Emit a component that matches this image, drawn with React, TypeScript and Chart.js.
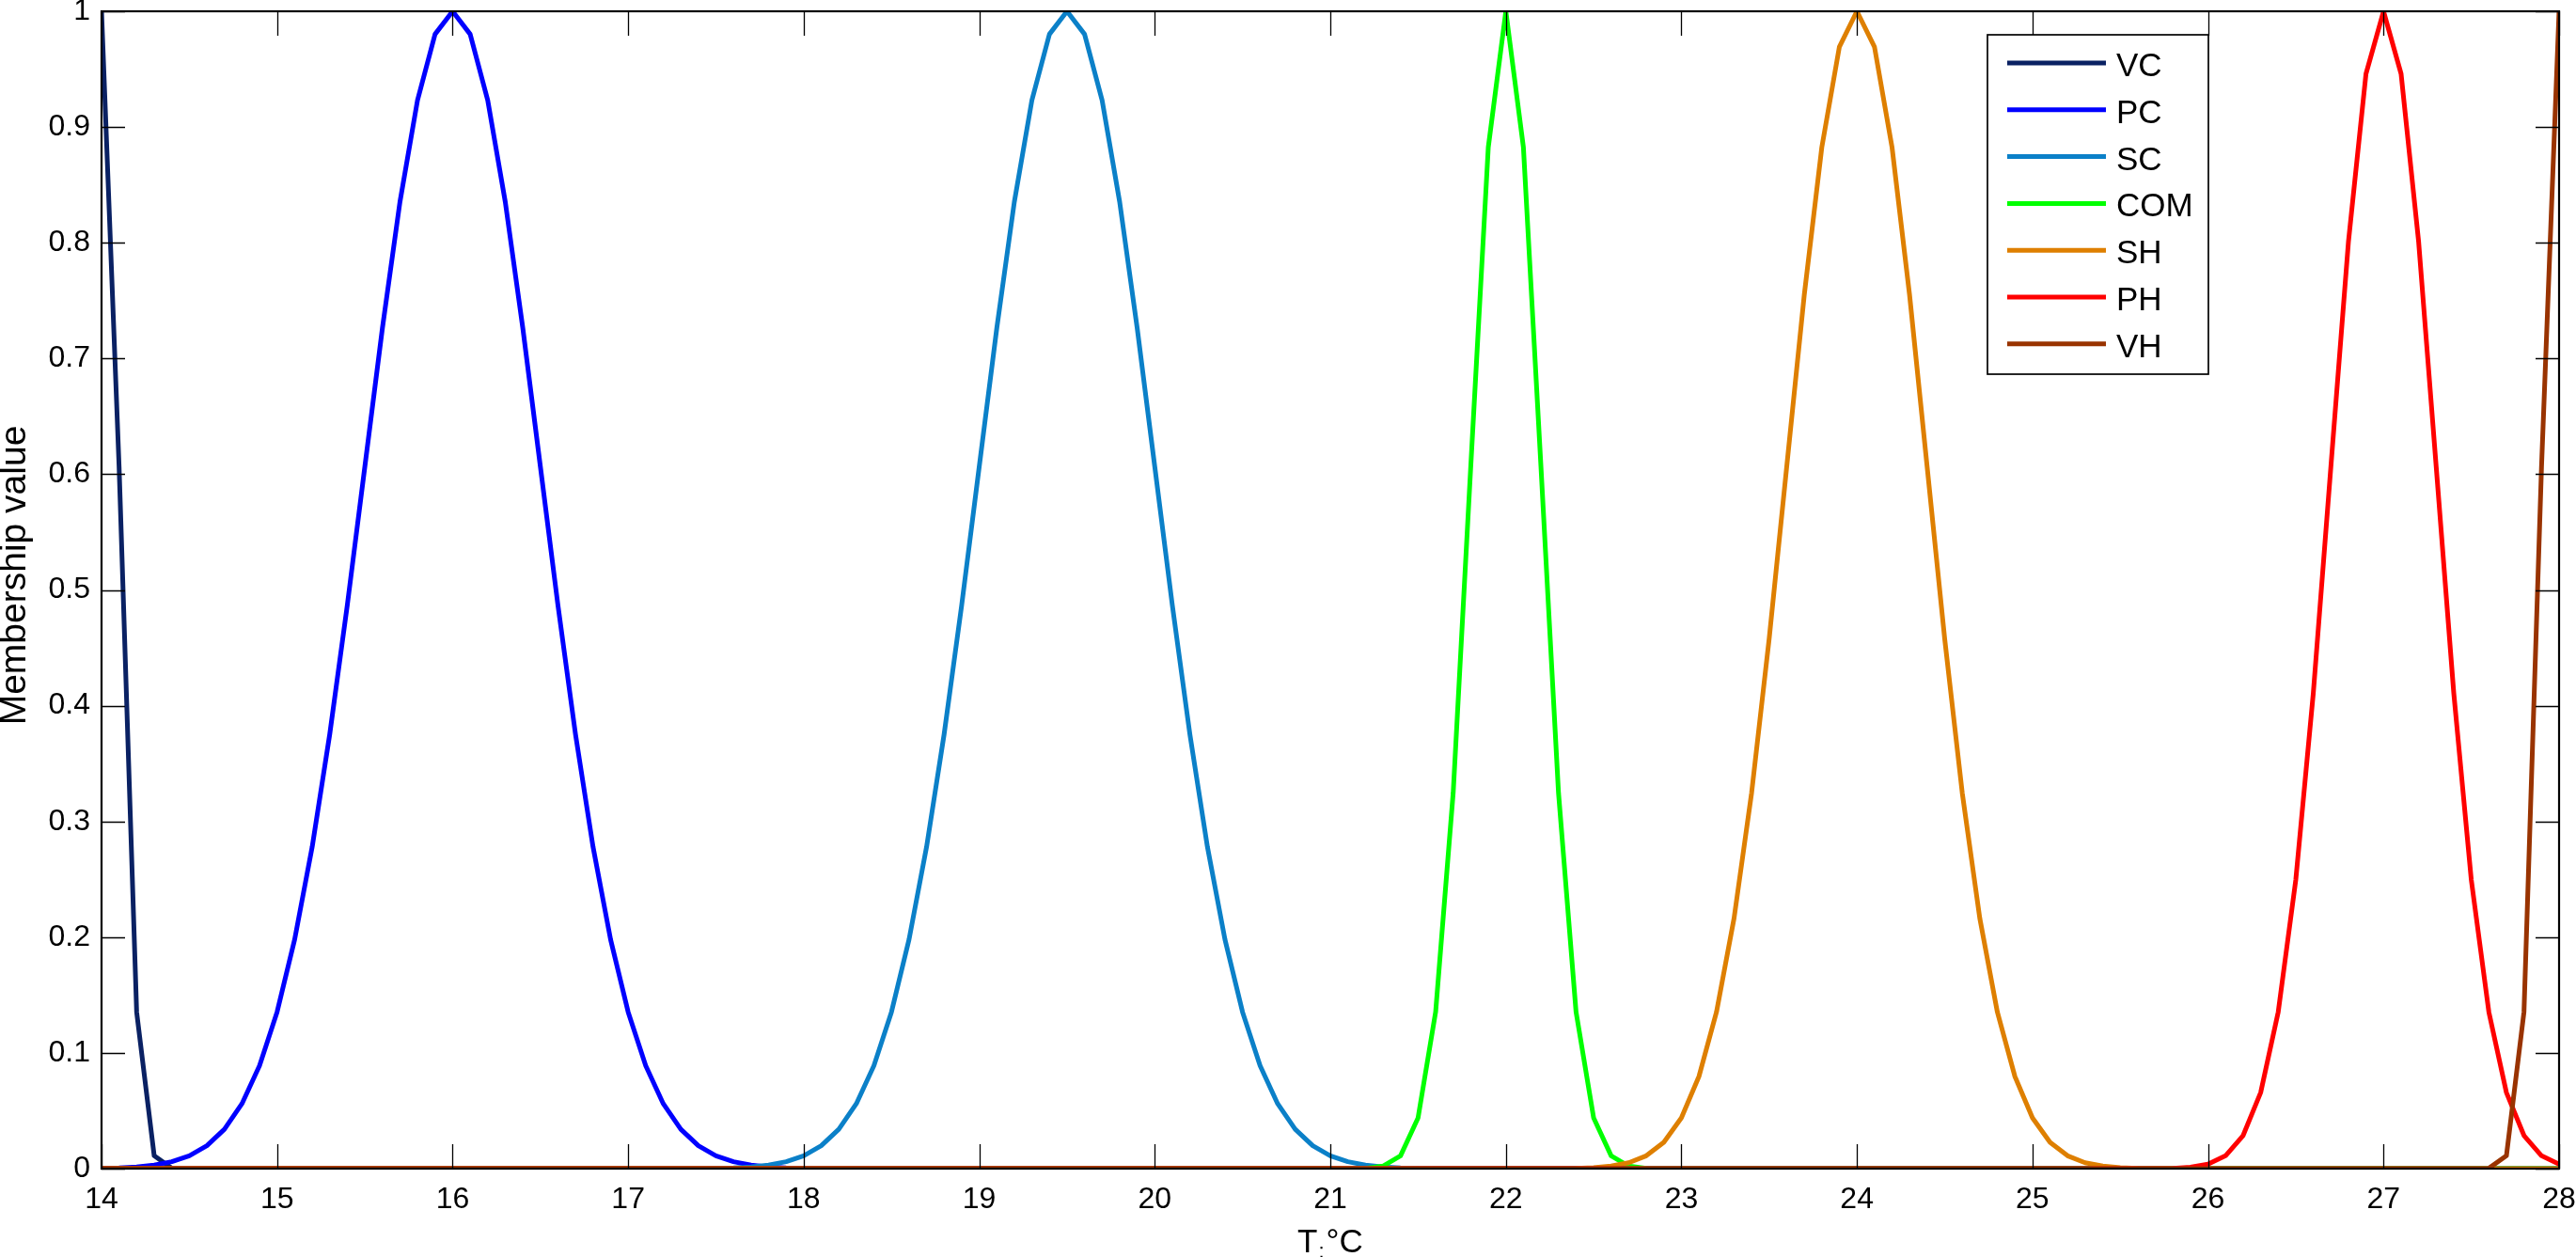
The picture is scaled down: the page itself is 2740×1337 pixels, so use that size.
import React, { useEffect, useRef } from 'react';
import { Chart, registerables } from 'chart.js';

Chart.register(...registerables);

// Temperature grid (°C)
const X = [
  14.0, 14.1, 14.2, 14.3, 14.4, 14.5, 14.6, 14.7, 14.8, 14.9,
  15.0, 15.1, 15.2, 15.3, 15.4, 15.5, 15.6, 15.7, 15.8, 15.9,
  16.0, 16.1, 16.2, 16.3, 16.4, 16.5, 16.6, 16.7, 16.8, 16.9,
  17.0, 17.1, 17.2, 17.3, 17.4, 17.5, 17.6, 17.7, 17.8, 17.9,
  18.0, 18.1, 18.2, 18.3, 18.4, 18.5, 18.6, 18.7, 18.8, 18.9,
  19.0, 19.1, 19.2, 19.3, 19.4, 19.5, 19.6, 19.7, 19.8, 19.9,
  20.0, 20.1, 20.2, 20.3, 20.4, 20.5, 20.6, 20.7, 20.8, 20.9,
  21.0, 21.1, 21.2, 21.3, 21.4, 21.5, 21.6, 21.7, 21.8, 21.9,
  22.0, 22.1, 22.2, 22.3, 22.4, 22.5, 22.6, 22.7, 22.8, 22.9,
  23.0, 23.1, 23.2, 23.3, 23.4, 23.5, 23.6, 23.7, 23.8, 23.9,
  24.0, 24.1, 24.2, 24.3, 24.4, 24.5, 24.6, 24.7, 24.8, 24.9,
  25.0, 25.1, 25.2, 25.3, 25.4, 25.5, 25.6, 25.7, 25.8, 25.9,
  26.0, 26.1, 26.2, 26.3, 26.4, 26.5, 26.6, 26.7, 26.8, 26.9,
  27.0, 27.1, 27.2, 27.3, 27.4, 27.5, 27.6, 27.7, 27.8, 27.9,
  28.0,
];

const VC = [
  1, 0.6065, 0.1353, 0.0111, 0.0003, 0, 0, 0, 0, 0,
  0, 0, 0, 0, 0, 0, 0, 0, 0, 0,
  0, 0, 0, 0, 0, 0, 0, 0, 0, 0,
  0, 0, 0, 0, 0, 0, 0, 0, 0, 0,
  0, 0, 0, 0, 0, 0, 0, 0, 0, 0,
  0, 0, 0, 0, 0, 0, 0, 0, 0, 0,
  0, 0, 0, 0, 0, 0, 0, 0, 0, 0,
  0, 0, 0, 0, 0, 0, 0, 0, 0, 0,
  0, 0, 0, 0, 0, 0, 0, 0, 0, 0,
  0, 0, 0, 0, 0, 0, 0, 0, 0, 0,
  0, 0, 0, 0, 0, 0, 0, 0, 0, 0,
  0, 0, 0, 0, 0, 0, 0, 0, 0, 0,
  0, 0, 0, 0, 0, 0, 0, 0, 0, 0,
  0, 0, 0, 0, 0, 0, 0, 0, 0, 0,
  0,
];

const PC = [
  0.0003, 0.0007, 0.0015, 0.0031, 0.0060, 0.0111, 0.0198, 0.0340, 0.0561, 0.0889,
  0.1353, 0.1979, 0.2780, 0.3753, 0.4868, 0.6065, 0.7261, 0.8353, 0.9231, 0.9802,
  1, 0.9802, 0.9231, 0.8353, 0.7261, 0.6065, 0.4868, 0.3753, 0.2780, 0.1979,
  0.1353, 0.0889, 0.0561, 0.0340, 0.0198, 0.0111, 0.0060, 0.0031, 0.0015, 0.0007,
  0.0003, 0.0001, 0, 0, 0, 0, 0, 0, 0, 0,
  0, 0, 0, 0, 0, 0, 0, 0, 0, 0,
  0, 0, 0, 0, 0, 0, 0, 0, 0, 0,
  0, 0, 0, 0, 0, 0, 0, 0, 0, 0,
  0, 0, 0, 0, 0, 0, 0, 0, 0, 0,
  0, 0, 0, 0, 0, 0, 0, 0, 0, 0,
  0, 0, 0, 0, 0, 0, 0, 0, 0, 0,
  0, 0, 0, 0, 0, 0, 0, 0, 0, 0,
  0, 0, 0, 0, 0, 0, 0, 0, 0, 0,
  0, 0, 0, 0, 0, 0, 0, 0, 0, 0,
  0,
];

const SC = [
  0, 0, 0, 0, 0, 0, 0, 0, 0, 0,
  0, 0, 0, 0, 0, 0, 0, 0, 0, 0,
  0, 0, 0, 0, 0, 0, 0, 0, 0, 0,
  0, 0, 0, 0, 0.0001, 0.0003, 0.0007, 0.0015, 0.0031, 0.0060,
  0.0111, 0.0198, 0.0340, 0.0561, 0.0889, 0.1353, 0.1979, 0.2780, 0.3753, 0.4868,
  0.6065, 0.7261, 0.8353, 0.9231, 0.9802, 1, 0.9802, 0.9231, 0.8353, 0.7261,
  0.6065, 0.4868, 0.3753, 0.2780, 0.1979, 0.1353, 0.0889, 0.0561, 0.0340, 0.0198,
  0.0111, 0.0060, 0.0031, 0.0015, 0.0007, 0.0003, 0.0001, 0, 0, 0,
  0, 0, 0, 0, 0, 0, 0, 0, 0, 0,
  0, 0, 0, 0, 0, 0, 0, 0, 0, 0,
  0, 0, 0, 0, 0, 0, 0, 0, 0, 0,
  0, 0, 0, 0, 0, 0, 0, 0, 0, 0,
  0, 0, 0, 0, 0, 0, 0, 0, 0, 0,
  0, 0, 0, 0, 0, 0, 0, 0, 0, 0,
  0,
];

const COM = [
  0, 0, 0, 0, 0, 0, 0, 0, 0, 0,
  0, 0, 0, 0, 0, 0, 0, 0, 0, 0,
  0, 0, 0, 0, 0, 0, 0, 0, 0, 0,
  0, 0, 0, 0, 0, 0, 0, 0, 0, 0,
  0, 0, 0, 0, 0, 0, 0, 0, 0, 0,
  0, 0, 0, 0, 0, 0, 0, 0, 0, 0,
  0, 0, 0, 0, 0, 0, 0, 0, 0, 0,
  0, 0, 0.0003, 0.0022, 0.0111, 0.0439, 0.1353, 0.3247, 0.6065, 0.8825,
  1, 0.8825, 0.6065, 0.3247, 0.1353, 0.0439, 0.0111, 0.0022, 0.0003, 0,
  0, 0, 0, 0, 0, 0, 0, 0, 0, 0,
  0, 0, 0, 0, 0, 0, 0, 0, 0, 0,
  0, 0, 0, 0, 0, 0, 0, 0, 0, 0,
  0, 0, 0, 0, 0, 0, 0, 0, 0, 0,
  0, 0, 0, 0, 0, 0, 0, 0, 0, 0,
  0,
];

const SH = [
  0, 0, 0, 0, 0, 0, 0, 0, 0, 0,
  0, 0, 0, 0, 0, 0, 0, 0, 0, 0,
  0, 0, 0, 0, 0, 0, 0, 0, 0, 0,
  0, 0, 0, 0, 0, 0, 0, 0, 0, 0,
  0, 0, 0, 0, 0, 0, 0, 0, 0, 0,
  0, 0, 0, 0, 0, 0, 0, 0, 0, 0,
  0, 0, 0, 0, 0, 0, 0, 0, 0, 0,
  0, 0, 0, 0, 0, 0, 0, 0, 0, 0,
  0, 0, 0, 0.0001, 0.0003, 0.0009, 0.0022, 0.0051, 0.0111, 0.0228,
  0.0439, 0.0796, 0.1353, 0.2163, 0.3247, 0.4578, 0.6065, 0.7548, 0.8825, 0.9692,
  1, 0.9692, 0.8825, 0.7548, 0.6065, 0.4578, 0.3247, 0.2163, 0.1353, 0.0796,
  0.0439, 0.0228, 0.0111, 0.0051, 0.0022, 0.0009, 0.0003, 0.0001, 0, 0,
  0, 0, 0, 0, 0, 0, 0, 0, 0, 0,
  0, 0, 0, 0, 0, 0, 0, 0, 0, 0,
  0,
];

const PH = [
  0, 0, 0, 0, 0, 0, 0, 0, 0, 0,
  0, 0, 0, 0, 0, 0, 0, 0, 0, 0,
  0, 0, 0, 0, 0, 0, 0, 0, 0, 0,
  0, 0, 0, 0, 0, 0, 0, 0, 0, 0,
  0, 0, 0, 0, 0, 0, 0, 0, 0, 0,
  0, 0, 0, 0, 0, 0, 0, 0, 0, 0,
  0, 0, 0, 0, 0, 0, 0, 0, 0, 0,
  0, 0, 0, 0, 0, 0, 0, 0, 0, 0,
  0, 0, 0, 0, 0, 0, 0, 0, 0, 0,
  0, 0, 0, 0, 0, 0, 0, 0, 0, 0,
  0, 0, 0, 0, 0, 0, 0, 0, 0, 0,
  0, 0, 0, 0, 0, 0, 0, 0.0001, 0.0003, 0.0012,
  0.0039, 0.0111, 0.0286, 0.0657, 0.1353, 0.2494, 0.4111, 0.6065, 0.8007, 0.9460,
  1, 0.9460, 0.8007, 0.6065, 0.4111, 0.2494, 0.1353, 0.0657, 0.0286, 0.0111,
  0.0039,
];

const VH = [
  0, 0, 0, 0, 0, 0, 0, 0, 0, 0,
  0, 0, 0, 0, 0, 0, 0, 0, 0, 0,
  0, 0, 0, 0, 0, 0, 0, 0, 0, 0,
  0, 0, 0, 0, 0, 0, 0, 0, 0, 0,
  0, 0, 0, 0, 0, 0, 0, 0, 0, 0,
  0, 0, 0, 0, 0, 0, 0, 0, 0, 0,
  0, 0, 0, 0, 0, 0, 0, 0, 0, 0,
  0, 0, 0, 0, 0, 0, 0, 0, 0, 0,
  0, 0, 0, 0, 0, 0, 0, 0, 0, 0,
  0, 0, 0, 0, 0, 0, 0, 0, 0, 0,
  0, 0, 0, 0, 0, 0, 0, 0, 0, 0,
  0, 0, 0, 0, 0, 0, 0, 0, 0, 0,
  0, 0, 0, 0, 0, 0, 0, 0, 0, 0,
  0, 0, 0, 0, 0, 0, 0.0003, 0.0111, 0.1353, 0.6065,
  1,
];

const SERIES_NAMES = ['VC', 'PC', 'SC', 'COM', 'SH', 'PH', 'VH'];
const SERIES_VALUES = [VC, PC, SC, COM, SH, PH, VH];
const SERIES_COLORS = ['#0a2163', '#0000ff', '#0b80c8', '#00ff00', '#de7f00', '#ff0000', '#993300'];

const X_TICKS = [14, 15, 16, 17, 18, 19, 20, 21, 22, 23, 24, 25, 26, 27, 28];
const X_TICK_LABELS = ['14', '15', '16', '17', '18', '19', '20', '21', '22', '23', '24', '25', '26', '27', '28'];
const Y_TICKS = [0, 0.1, 0.2, 0.3, 0.4, 0.5, 0.6, 0.7, 0.8, 0.9, 1];
const Y_TICK_LABELS = ['0', '0.1', '0.2', '0.3', '0.4', '0.5', '0.6', '0.7', '0.8', '0.9', '1'];

const X_TITLE_MAIN = 'T';
const X_TITLE_SUB = ':';
const X_TITLE_REST = '°C';
const Y_TITLE = 'Membership value';

const FONT = '"Liberation Sans", Arial, Helvetica, sans-serif';

const decorPlugin = {
  id: 'matlabDecor',
  afterDatasetsDraw(chart: any) {
    const { ctx, chartArea: a, scales } = chart;
    const xs = scales.x;
    const ys = scales.y;
    ctx.save();

    // inward ticks on all four sides
    ctx.strokeStyle = '#000';
    ctx.lineWidth = 1.3;
    ctx.beginPath();
    const tlx = 26;
    const tly = 25;
    X_TICKS.forEach((v) => {
      const px = Math.round(xs.getPixelForValue(v)) + 0.5;
      ctx.moveTo(px, a.bottom);
      ctx.lineTo(px, a.bottom - tlx);
      ctx.moveTo(px, a.top);
      ctx.lineTo(px, a.top + tlx);
    });
    Y_TICKS.forEach((v) => {
      const py = Math.round(ys.getPixelForValue(v)) + 0.5;
      ctx.moveTo(a.left, py);
      ctx.lineTo(a.left + tly, py);
      ctx.moveTo(a.right, py);
      ctx.lineTo(a.right - tly, py);
    });
    ctx.stroke();

    // axes box
    ctx.lineWidth = 2.2;
    ctx.strokeRect(a.left, a.top, a.right - a.left, a.bottom - a.top);

    // legend
    const lx0 = 2114;
    const ly0 = 37;
    const lw = 235;
    const lh = 361;
    ctx.fillStyle = '#fff';
    ctx.fillRect(lx0, ly0, lw, lh);
    ctx.lineWidth = 1.7;
    ctx.strokeStyle = '#000';
    ctx.strokeRect(lx0, ly0, lw, lh);
    ctx.font = `35px ${FONT}`;
    ctx.textAlign = 'left';
    ctx.textBaseline = 'alphabetic';
    SERIES_NAMES.forEach((name, i) => {
      const yc = 67 + i * 49.8;
      ctx.strokeStyle = SERIES_COLORS[i];
      ctx.lineWidth = 5;
      ctx.beginPath();
      ctx.moveTo(2135, yc);
      ctx.lineTo(2240, yc);
      ctx.stroke();
      ctx.fillStyle = '#000';
      ctx.fillText(name, 2251, yc + 14);
    });

    // x-axis title with subscript colon
    const cx = (a.left + a.right) / 2;
    ctx.fillStyle = '#000';
    ctx.font = `35px ${FONT}`;
    const wMain = ctx.measureText(X_TITLE_MAIN).width;
    const wRest = ctx.measureText(X_TITLE_REST).width;
    ctx.font = `22px ${FONT}`;
    const wSub = ctx.measureText(X_TITLE_SUB).width;
    const total = wMain + wSub + 3 + wRest;
    let tx = cx - total / 2;
    ctx.font = `35px ${FONT}`;
    ctx.fillText(X_TITLE_MAIN, tx, 1332);
    tx += wMain + 1;
    ctx.font = `22px ${FONT}`;
    ctx.fillText(X_TITLE_SUB, tx, 1338);
    tx += wSub + 2;
    ctx.font = `35px ${FONT}`;
    ctx.fillText(X_TITLE_REST, tx, 1332);

    // y-axis title
    ctx.save();
    ctx.translate(16, 612);
    ctx.rotate(-Math.PI / 2);
    ctx.textAlign = 'center';
    ctx.textBaseline = 'middle';
    ctx.font = `39px ${FONT}`;
    ctx.fillText(Y_TITLE, 0, 0);
    ctx.restore();

    ctx.restore();
  },
};

export default function App() {
  const canvasRef = useRef<HTMLCanvasElement | null>(null);

  useEffect(() => {
    const canvas = canvasRef.current;
    if (!canvas) return;
    const datasets = SERIES_NAMES.map((name, i) => ({
      label: name,
      data: X.map((x, j) => ({ x, y: SERIES_VALUES[i][j] })),
      borderColor: SERIES_COLORS[i],
      backgroundColor: SERIES_COLORS[i],
      borderWidth: 5,
      pointRadius: 0,
      pointHoverRadius: 0,
      tension: 0,
      fill: false,
      borderJoinStyle: 'round' as const,
      order: SERIES_NAMES.length - 1 - i,
    }));

    const chart = new Chart(canvas, {
      type: 'line',
      data: { datasets },
      options: {
        animation: false,
        responsive: false,
        devicePixelRatio: 1,
        events: [],
        layout: { padding: { left: 0, right: 18, top: 12, bottom: 0 } },
        plugins: {
          legend: { display: false },
          tooltip: { enabled: false },
          title: { display: false },
        },
        scales: {
          x: {
            type: 'linear',
            min: 14,
            max: 28,
            grid: { display: false, drawTicks: false },
            border: { display: false },
            afterBuildTicks: (scale: any) => {
              scale.ticks = X_TICKS.map((v) => ({ value: v }));
            },
            afterFit: (scale: any) => {
              scale.height = 94;
              scale.paddingLeft = 0;
              scale.paddingRight = 0;
            },
            ticks: {
              autoSkip: false,
              maxRotation: 0,
              padding: 14,
              color: '#000',
              font: { family: FONT, size: 32 },
              callback: (_v: any, i: number) => X_TICK_LABELS[i],
            },
          },
          y: {
            type: 'linear',
            min: 0,
            max: 1,
            grid: { display: false, drawTicks: false },
            border: { display: false },
            afterBuildTicks: (scale: any) => {
              scale.ticks = Y_TICKS.map((v) => ({ value: v }));
            },
            afterFit: (scale: any) => {
              scale.width = 108;
              scale.paddingTop = 0;
              scale.paddingBottom = 0;
            },
            ticks: {
              autoSkip: false,
              padding: 12,
              color: '#000',
              font: { family: FONT, size: 32 },
              callback: (_v: any, i: number) => Y_TICK_LABELS[i],
            },
          },
        },
      },
      plugins: [decorPlugin],
    });

    return () => {
      chart.destroy();
    };
  }, []);

  return (
    <div
      style={{
        position: 'fixed',
        left: 0,
        top: 0,
        width: 2740,
        height: 1337,
        background: '#fff',
        overflow: 'hidden',
      }}
    >
      <canvas ref={canvasRef} width={2740} height={1337} style={{ display: 'block', width: 2740, height: 1337 }} />
    </div>
  );
}
